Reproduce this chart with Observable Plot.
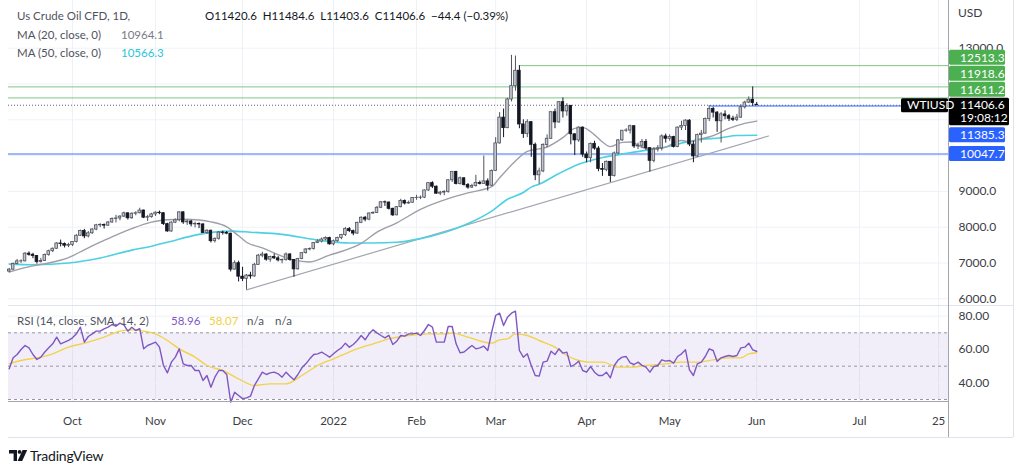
<!DOCTYPE html>
<html><head><meta charset="utf-8">
<script src="https://cdn.jsdelivr.net/npm/d3@7"></script>
<script src="https://cdn.jsdelivr.net/npm/@observablehq/plot@0.6"></script>
<style>
html,body{margin:0;padding:0;background:#fff;}
#chart{position:relative;width:1024px;height:474px;overflow:hidden;font-family:Lato,"Noto Sans",sans-serif;}
#chart svg{display:block;}
.pane{position:absolute;left:0;}
.lg{position:absolute;white-space:pre;font-size:11.5px;line-height:14px;color:#50535e;}
</style></head><body>
<div id="chart"></div>
<script>
// ---------- data ----------
const startDate = "2021-09-09"; // first daily bar (weekday bars)
const lastBarDate = "2022-06-01"; // after this the time scale projects Sun–Fri sessions
const opens = [6760,6814,6972,7045,7046,7261,7230,7197,7029,7056,7223,7330,7398,7545,7529,7483,7503,7588,7762,7893,7743,7830,7935,8052,8064,8044,8131,8228,8244,8296,8387,8250,8376,8390,8465,8266,8281,8357,8405,8391,8086,7881,8127,8193,8415,8134,8159,8079,8088,8076,7836,7901,7610,7675,7850,7839,7820,6815,6995,6618,6557,6650,6626,6949,7205,7236,7094,7167,7129,7073,7087,7238,7086,6823,7112,7276,7379,7390,7557,7598,7656,7699,7521,7608,7699,7785,7946,7890,7823,8122,8264,8212,8382,8400,8543,8696,8690,8514,8331,8560,8735,8661,8682,8815,8820,8826,9027,9231,9132,8936,8966,8988,9310,9546,9207,9366,9176,9107,9150,9235,9210,9281,9159,9572,10341,11060,10767,11568,11940,12370,10870,10602,10933,10301,9450,9560,10298,10470,11212,10927,11493,11234,11390,10596,10424,10782,10028,9927,10328,10196,9623,9603,9826,9429,10060,10425,10695,10700,10821,10256,10275,10379,10207,9854,10170,10202,10536,10469,10517,10241,10781,10826,10977,10309,9976,10571,10613,11020,11300,11200,10959,11150,11100,11029,11000,11060,11350,11480,11560,11420.6];
const highs = [6850,7000,7100,7090,7290,7310,7270,7210,7130,7250,7360,7420,7570,7640,7560,7550,7600,7790,7920,7940,7880,7960,8080,8100,8090,8160,8260,8330,8320,8420,8400,8400,8430,8530,8480,8330,8390,8430,8450,8400,8110,8150,8230,8430,8430,8200,8190,8140,8120,8100,7930,7920,7700,7880,7890,7880,7830,7060,7050,6880,6680,6740,6990,7240,7300,7260,7190,7250,7180,7110,7280,7260,7100,7130,7290,7400,7420,7570,7650,7700,7730,7720,7640,7720,7800,7990,7990,7920,8140,8290,8300,8400,8430,8580,8720,8730,8700,8530,8580,8780,8760,8730,8830,8890,8870,9040,9240,9270,9150,9000,9020,9330,9550,9560,9400,9380,9220,9200,9450,9290,9990,9350,9600,10500,11200,11300,11600,12800,12780,12513.3,11000,11000,10950,10350,9650,10330,10580,11220,11300,11500,11611.2,11450,11400,10600,10800,10800,10100,10350,10400,10250,9780,9850,9830,10100,10450,10700,10750,10850,10830,10350,10450,10450,10220,10220,10280,10580,10600,10580,10540,10800,10960,11000,11000,10400,10600,10700,11050,11385.3,11350,11230,11200,11250,11150,11100,11150,11420,11520,11640,11918.6,11484.6];
const lows = [6730,6800,6950,6990,7030,7190,7120,6970,7000,7040,7190,7290,7380,7450,7420,7430,7460,7560,7740,7680,7700,7800,7900,7990,7950,8020,8110,8120,8180,8270,8200,8220,8320,8370,8240,8160,8250,8300,8350,8050,7860,7860,8100,8150,8080,8050,8010,7980,7960,7830,7800,7560,7560,7640,7780,7790,6750,6800,6470,6480,6250,6550,6600,6930,7150,7050,7020,7100,7030,6980,7050,7050,6600,6800,7090,7250,7340,7360,7540,7560,7620,7500,7480,7580,7650,7740,7850,7760,7800,8100,8150,8180,8360,8380,8520,8580,8480,8300,8320,8540,8620,8640,8670,8750,8770,8800,9000,9080,8920,8880,8880,8950,9250,9180,9180,9150,9060,9080,9120,9180,9200,9010,9140,9560,10320,10500,10750,11500,11800,10750,10480,10500,9950,9300,9200,9520,10220,10450,10750,10900,11050,11100,10300,10000,10370,9950,9800,9800,10150,9550,9420,9550,9250,9400,10020,10400,10650,10600,10200,10170,10200,10150,9540,9800,10100,10130,10350,10400,10210,10220,10700,10700,10250,9800,9950,10350,10600,10950,11050,10650,10350,11000,10950,10950,10950,11040,11300,11450,11380,11403.6];
const closes = [6814,6972,7045,7046,7261,7230,7197,7029,7056,7223,7330,7398,7545,7529,7483,7503,7588,7762,7893,7743,7830,7935,8052,8064,8044,8131,8228,8244,8296,8387,8250,8376,8390,8465,8266,8281,8357,8405,8391,8086,7881,8127,8193,8415,8134,8159,8079,8088,8076,7836,7901,7610,7675,7850,7839,7820,6815,6995,6618,6557,6650,6626,6949,7205,7236,7094,7167,7129,7073,7087,7238,7086,6823,7112,7276,7379,7390,7557,7598,7656,7699,7521,7608,7699,7785,7946,7890,7823,8122,8264,8212,8382,8400,8543,8696,8690,8514,8331,8560,8735,8661,8682,8815,8820,8826,9027,9231,9132,8936,8966,8988,9310,9546,9207,9366,9176,9107,9150,9235,9210,9281,9159,9572,10341,11060,10767,11568,11940,12370,10870,10602,10933,10301,9450,9560,10298,10470,11212,10927,11493,11234,11390,10596,10424,10782,10028,9927,10328,10196,9623,9603,9826,9429,10060,10425,10695,10700,10821,10256,10275,10379,10207,9854,10170,10202,10536,10469,10517,10241,10781,10826,10977,10309,9976,10571,10613,11020,11300,11200,10959,11150,11100,11029,11000,11060,11350,11480,11560,11467,11406.6];
// moving averages: [bar number, value]
const ma20 = [[0,6750],[6,6920],[10,7000],[15,7150],[19,7370],[23,7580],[27,7780],[31,7960],[36,8140],[40,8210],[44,8220],[48,8200],[51,8150],[55,8010],[58,7760],[60,7580],[64,7420],[68,7230],[72,7080],[76,7030],[81,7220],[85,7360],[89,7550],[93,7860],[98,8120],[104,8500],[111,8800],[116,8960],[122,9130],[124,9380],[128,9850],[131,10120],[136,10240],[140,10500],[143,10760],[145,10780],[148,10580],[150,10380],[152,10250],[155,10370],[157,10380],[161,10200],[165,10210],[170,10420],[172,10380],[174,10440],[178,10560],[182,10760],[186,10900],[189,10964.1]];
const ma50 = [[0,6970],[6,6950],[15,7000],[23,7140],[31,7360],[36,7470],[40,7580],[48,7800],[56,7890],[61,7860],[69,7800],[78,7640],[86,7560],[92,7560],[98,7580],[104,7680],[110,7850],[117,8150],[122,8450],[126,8780],[130,8970],[132,9120],[134,9200],[139,9500],[144,9760],[149,9920],[157,10080],[165,10220],[174,10440],[180,10500],[184,10560],[189,10566.3]];
const trendLine = [[60,6250],[192,10547]];
// RSI per bar and its SMA
const rsi = [48.4,55,57,60,62.4,61,57,54,55.4,58.5,61,63.4,67.4,63.4,64.4,65.5,67,69.4,73.4,64.4,67.8,69.4,71,71,72.4,73.4,75,74,75.8,74.8,71,73.4,71.4,72.5,60.4,62.4,63.4,64.4,61.4,50.4,46,52.4,55.4,60.4,51.4,50.4,50.4,47.4,47.4,41.4,44.4,37.4,43.4,47.4,47.4,45,28.4,34.4,32.4,30.5,31,32,38.4,42.4,46.4,45,46,46.4,45.4,43.4,46.4,44,41.8,45,49,51.4,54.4,57,57.4,58.4,57,55.4,57.4,59.4,61,63.8,61.4,63,65.4,68.4,65.8,69.4,71.8,70,68.4,67,68.5,63,65,68.4,68,69.4,69.4,69.8,68.4,71.4,75,73.4,64.4,64.4,64.4,73.8,73.8,63.4,58,58.5,60.5,62.4,60.4,61,62,59.4,70.4,80.4,81.8,74.4,79.4,81.8,83,59.4,55.4,57.4,50.4,44.4,44,52.4,53,59,57,60.4,57.8,58.4,49.8,51,53,47.4,46.4,49.8,46.4,44.4,44.4,46.4,43,50.4,53.8,55.4,55.8,52,51,52.4,50.5,49.4,46.4,49.8,50.4,53.8,53,53.4,51.8,55.8,57.4,59.8,47.8,44.4,51.4,52.4,55.8,60.4,59.4,52.8,55,55.8,56.4,55.8,56.4,61,61.4,63.8,59.8,58.96];
const rsiSma = [[0,51.4],[3,53.4],[7,55],[11,57.4],[15,61.4],[20,64.4],[24,67.4],[28,71],[31,71.8],[34,71],[37,69.4],[40,65.4],[43,60.4],[47,55.4],[50,50.4],[54,47.4],[58,42.4],[62,38.4],[66,39.4],[70,39.4],[74,44.4],[78,50.4],[82,54.4],[88,60.4],[92,63.4],[96,66.4],[101,68.4],[106,69.4],[110,69.4],[112,69.8],[116,67.4],[120,64.5],[122,63.8],[124,65.8],[126,66.4],[128,69.4],[131,68.4],[134,65.4],[138,61.4],[141,56.4],[144,53.4],[147,52.4],[150,52.4],[154,49.4],[157,49.4],[161,50.4],[166,51.4],[170,52.4],[174,52.4],[178,53.8],[182,55],[185,55],[187,57.4],[189,58.07]];
// horizontal levels
const greenLevels = [11918.6, 11611.2];
const greenFrom = [[129, 12513.3]];
const blueFrom = [[177, 11385.3]];
const blueThick = [10047.7];
const lastPrice = 11406.6;
const gridPrices = [6000,7000,8000,9000,10000,11000,12000,13000];
const priceTickLabels = [6000,7000,8000,9000,13000]; // 10000–12000 sit under the price tags
const rsiTicks = [80,60,40];
const rsiDashed = [70,50,30];
const tickLabels = ["Oct","Nov","Dec","2022","Feb","Mar","Apr","May","Jun","Jul","25"];
const tickDates = ["2021-10-01","2021-11-01","2021-12-01","2022-01-03","2022-02-01","2022-03-01","2022-04-01","2022-05-02","2022-06-01","2022-07-01","2022-07-25"];

// ---------- helpers ----------
function barOf(s){
  const d1 = new Date(s+"T00:00:00Z"), dl = new Date(lastBarDate+"T00:00:00Z"); let n=0;
  for(let d=new Date(startDate+"T00:00:00Z"); d<d1; d.setUTCDate(d.getUTCDate()+1)){
    const w=d.getUTCDay();
    if(d<dl){ if(w!==0&&w!==6) n++; } else { if(w!==6) n++; }
  }
  return n;
}
const tickBars = tickDates.map(barOf);
const tickMap = new Map(tickBars.map((b,i)=>[b,tickLabels[i]]));
const bars = closes.map((c,i)=>({i,o:opens[i],h:highs[i],l:lows[i],c,up:c>=opens[i]}));
const xDom = [-0.18, 237.5];
const W = 1024, ML = 8, MR = 76;
const FONT = 'Lato,"Noto Sans",sans-serif';
const GRID = "#eef1f7";
const upFill="#c2c5cc", upStroke="#50535e", dnFill="#131722";

const chart = document.getElementById("chart");

// ---------- price pane ----------
const p1 = Plot.plot({
  width: W, height: 305, marginLeft: ML, marginRight: MR, marginTop: 0, marginBottom: 0,
  style: {background:"#fff", fontFamily: FONT, fontSize:"12px", color:"#3a3d45"},
  x: {domain: xDom, axis: null},
  y: {domain: [5813, 14332], axis: null},
  marks: [
    Plot.ruleY(gridPrices, {stroke: GRID}),
    Plot.ruleX(tickBars, {stroke: GRID}),
    Plot.ruleY(blueThick, {stroke:"#2962ff", strokeOpacity:0.45, strokeWidth:2}),
    Plot.ruleY(greenLevels, {stroke:"#4caf50", strokeOpacity:0.7}),
    Plot.ruleY(greenFrom, {y: d=>d[1], x1: d=>d[0], x2: xDom[1], stroke:"#4caf50", strokeOpacity:0.7}),
    Plot.ruleY([lastPrice], {stroke:"#5d606b", strokeDasharray:"1,2"}),
    Plot.ruleY(blueFrom, {y: d=>d[1], x1: d=>d[0], x2: xDom[1], stroke:"#2962ff"}),
    Plot.line(trendLine, {x: d=>d[0], y: d=>d[1], stroke:"#a3a6af", strokeWidth:1.2}),
    Plot.line(ma50, {x: d=>d[0], y: d=>d[1], stroke:"#4dd0e1", strokeWidth:1.6, curve:"monotone-x"}),
    Plot.line(ma20, {x: d=>d[0], y: d=>d[1], stroke:"#9e9ea8", strokeWidth:1.4, curve:"monotone-x"}),
    Plot.ruleX(bars, {x:"i", y1:"l", y2:"h", stroke: d=>d.up?upStroke:dnFill, strokeWidth:1}),
    Plot.rect(bars, {x1: d=>d.i-0.33, x2: d=>d.i+0.33, y1:"o", y2:"c",
      fill: d=>d.up?upFill:dnFill, stroke: d=>d.up?upStroke:dnFill, strokeWidth:0.8}),
    Plot.axisY({ticks: priceTickLabels, anchor:"right", tickSize:0, tickPadding:10, tickFormat: d=>d.toFixed(1), label:null, fontSize:12})
  ]
});
p1.classList.add("pane"); p1.style.top="0px";
chart.appendChild(p1);

// ---------- RSI pane + time axis ----------
const p2 = Plot.plot({
  width: W, height: 132, marginLeft: ML, marginRight: MR, marginTop: 0, marginBottom: 36,
  style: {background:"transparent", fontFamily: FONT, fontSize:"12px", color:"#3a3d45"},
  x: {domain: xDom, axis: null},
  y: {domain: [28.8, 86.4], axis: null},
  marks: [
    Plot.ruleX(tickBars, {stroke: GRID}),
    Plot.rect([0], {x1: xDom[0], x2: xDom[1], y1: 30, y2: 70, fill:"#7e57c2", fillOpacity:0.1}),
    Plot.ruleY(rsiTicks, {stroke: GRID}),
    Plot.ruleY(rsiDashed, {stroke:"#9598a1", strokeDasharray:"3,3"}),
    Plot.line(rsiSma, {x: d=>d[0], y: d=>d[1], stroke:"#f2d24b", strokeWidth:1.4, curve:"monotone-x"}),
    Plot.line(rsi, {x: (d,i)=>i, y: d=>d, stroke:"#7e57c2", strokeWidth:1.4}),
    Plot.axisY({ticks: rsiTicks, anchor:"right", tickSize:0, tickPadding:10, tickFormat: d=>d.toFixed(2), label:null, fontSize:12}),
    Plot.axisX({ticks: tickBars, anchor:"bottom", tickSize:0, tickPadding:15, tickFormat: d=>tickMap.get(d), label:null, fontSize:11.5})
  ]
});
p2.classList.add("pane"); p2.style.top="305px";
chart.appendChild(p2);

// ---------- overlay: frame & price labels ----------
const sy = p1.scale("y");
const yOf = d3.scaleLinear(sy.domain, sy.range);
const ov = d3.select(chart).append("svg").attr("width",W).attr("height",474)
  .style("position","absolute").style("left","0px").style("top","0px")
  .style("font-family",FONT).style("font-size","12px");
const R = W - MR; // 948
ov.append("line").attr("x1",ML).attr("x2",1013).attr("y1",305.5).attr("y2",305.5).attr("stroke","#e0e3eb");
ov.append("line").attr("x1",ML).attr("x2",R).attr("y1",401.5).attr("y2",401.5).attr("stroke","#a3a6af");
ov.append("line").attr("x1",R+0.5).attr("x2",R+0.5).attr("y1",0).attr("y2",437).attr("stroke","#a3a6af");
ov.append("line").attr("x1",1013.5).attr("x2",1013.5).attr("y1",0).attr("y2",437).attr("stroke","#e0e3eb");
ov.append("line").attr("x1",ML).attr("x2",1013).attr("y1",437.5).attr("y2",437.5).attr("stroke","#e0e3eb");
ov.append("text").attr("x",958).attr("y",13).attr("dy","0.35em").attr("fill","#3a3d45").text("USD");

const labels = [
  {p:12513.3, c:"#4caf50"},{p:11918.6, c:"#4caf50"},{p:11611.2, c:"#4caf50"},
  {p:11385.3, c:"#2962ff"},{p:10047.7, c:"#2962ff"}
];
const BH = 15, ay = yOf(lastPrice);
let lim = ay - 7 - 1;
labels.filter(l=>l.p>lastPrice).sort((a,b)=>a.p-b.p).forEach(l=>{
  l.cy = Math.min(yOf(l.p), lim - BH/2); lim = l.cy - BH/2 - 1;
});
let lim2 = ay + 20.5 + 2;
labels.filter(l=>l.p<lastPrice).sort((a,b)=>b.p-a.p).forEach(l=>{
  l.cy = Math.max(yOf(l.p), lim2 + BH/2); lim2 = l.cy + BH/2 + 1;
});
labels.forEach(l=>{
  ov.append("rect").attr("x",R+1).attr("y",l.cy-BH/2).attr("width",56).attr("height",BH).attr("rx",1.5).attr("fill",l.c);
  ov.append("text").attr("x",R+12).attr("y",l.cy).attr("dy","0.36em").attr("fill","#fff").text(l.p.toFixed(1));
});
ov.append("rect").attr("x",R+1).attr("y",ay-7).attr("width",60).attr("height",27.5).attr("rx",1.5).attr("fill","#000");
ov.append("text").attr("x",R+12).attr("y",ay).attr("dy","0.36em").attr("fill","#fff").text(lastPrice.toFixed(1));
ov.append("text").attr("x",R+12).attr("y",ay+13).attr("dy","0.36em").attr("fill","#fff").text("19:08:12");
ov.append("rect").attr("x",901).attr("y",ay-6.5).attr("width",47).attr("height",14).attr("rx",1.5).attr("fill","#000");
ov.append("text").attr("x",907).attr("y",ay).attr("dy","0.36em").attr("fill","#fff").text("WTIUSD");

// TradingView logo
const lg = ov.append("g").attr("transform","translate(9,450)").attr("fill","#131722");
lg.append("path").attr("d","M0 0H8V11H4.6V3.4H0Z");
lg.append("circle").attr("cx",10.6).attr("cy",1.9).attr("r",1.9);
lg.append("path").attr("d","M13.6 0H18.2L13.2 11H8.6Z");
ov.append("text").attr("x",30).attr("y",456).attr("dy","0.36em").attr("fill","#131722")
  .style("font-size","14px").style("letter-spacing","-0.2px").text("TradingView");

// ---------- legends ----------
function addText(top, left, text, color){
  const d = document.createElement("div"); d.className="lg"; d.style.top=top+"px"; d.style.left=left+"px";
  d.textContent = text; if(color) d.style.color = color; chart.appendChild(d);
}
addText(9, 17, "Us Crude Oil CFD, 1D,");
addText(9, 205, "O11420.6  H11484.6  L11403.6  C11406.6  −44.4 (−0.39%)", "#131722");
addText(28, 17, "MA (20, close, 0)");
addText(28, 121, "10964.1", "#787b86");
addText(46, 17, "MA (50, close, 0)");
addText(46, 121, "10566.3", "#26c6da");
addText(314, 17, "RSI (14, close, SMA, 14, 2)");
addText(314, 171, "58.96", "#7e57c2");
addText(314, 209, "58.07", "#f2cf3c");
addText(314, 247, "n/a", "#50535e");
addText(314, 275, "n/a", "#50535e");
</script></body></html>
